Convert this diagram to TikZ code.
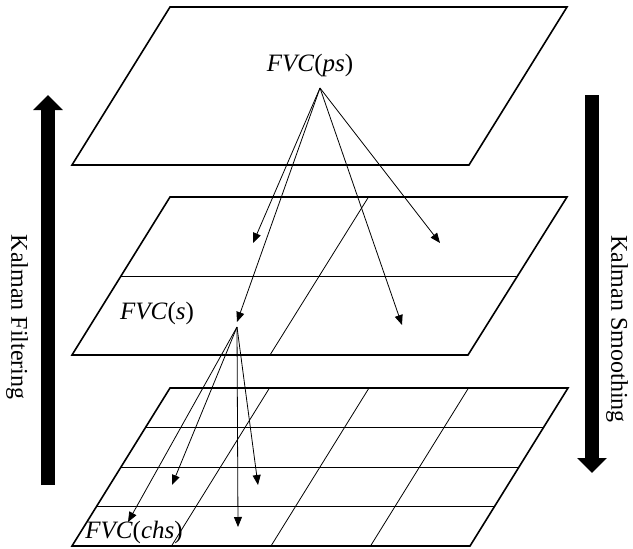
\documentclass[tikz,border=0pt]{standalone}
\usepackage{fontspec}
\setmainfont{Liberation Serif}
\usetikzlibrary{arrows.meta,calc}
\tikzset{
  plane/.style={line width=1.6pt, line join=miter},
  gridline/.style={line width=0.8pt},
  link/.style={line width=0.8pt, -{Triangle[length=10pt,width=8pt]}},
  bigarrow/.style={line width=14pt, -{Triangle[length=15pt,width=29pt]}},
  lbl/.style={font=\fontsize{25}{30}\selectfont, inner sep=0pt},
  side/.style={font=\fontsize{24}{28}\selectfont, inner sep=0pt, rotate=-90}
}
\begin{document}
\begin{tikzpicture}[x=1pt,y=-1pt]
\useasboundingbox (0,0) rectangle (633,549);
% top plane
\coordinate (aTL) at (170,7);   \coordinate (aTR) at (567,7);
\coordinate (aBR) at (469,165); \coordinate (aBL) at (72,165);
\draw[plane] (aTL) -- (aTR) -- (aBR) -- (aBL) -- cycle;
% middle plane
\coordinate (bTL) at (170,197); \coordinate (bTR) at (567,197);
\coordinate (bBR) at (468,355); \coordinate (bBL) at (72,355);
\draw[gridline] ($(bTL)!0.5!(bBL)$) -- ($(bTR)!0.5!(bBR)$);
\draw[gridline] ($(bTL)!0.5!(bTR)$) -- ($(bBL)!0.5!(bBR)$);
\draw[plane] (bTL) -- (bTR) -- (bBR) -- (bBL) -- cycle;
% bottom plane
\coordinate (cTL) at (170,388); \coordinate (cTR) at (568,388);
\coordinate (cBR) at (470,546); \coordinate (cBL) at (72,546);
\foreach \t in {0.25,0.5,0.75}{
  \draw[gridline] ($(cTL)!\t!(cBL)$) -- ($(cTR)!\t!(cBR)$);
  \draw[gridline] ($(cTL)!\t!(cTR)$) -- ($(cBL)!\t!(cBR)$);
}
\draw[plane] (cTL) -- (cTR) -- (cBR) -- (cBL) -- cycle;
% labels
\node[lbl] (ps) at (310,65) {\textit{FVC}(\textit{ps})};
\node[lbl] (s) at (157,313) {\textit{FVC}(\textit{s})};
\node[lbl] (chs) at (134,532) {\textit{FVC}(\textit{chs})};
% arrows from top
\coordinate (psO) at (320,88);
\coordinate (m1) at (253,243);
\coordinate (m2) at (440,243);
\coordinate (m3) at (402,325);
\coordinate (m4) at (237,322);
\foreach \e in {m1,m2,m3,m4} \draw[link] (psO) -- (\e);
% arrows from middle
\coordinate (sO) at (237,327);
\coordinate (c1) at (128,522);
\coordinate (c2) at (172,485);
\coordinate (c3) at (238,527);
\coordinate (c4) at (258,485);
\foreach \e in {c1,c2,c3,c4} \draw[link] (sO) -- (\e);
% side arrows
\coordinate (fA) at (48,485); \coordinate (fB) at (48,95);
\draw[bigarrow] (fA) -- (fB);
\coordinate (sA) at (592,95); \coordinate (sB) at (592,473);
\draw[bigarrow] (sA) -- (sB);
\node[side] (kf) at (17,317) {Kalman Filtering};
\node[side] (ks) at (617,329) {Kalman Smoothing};
\end{tikzpicture}
\end{document}
